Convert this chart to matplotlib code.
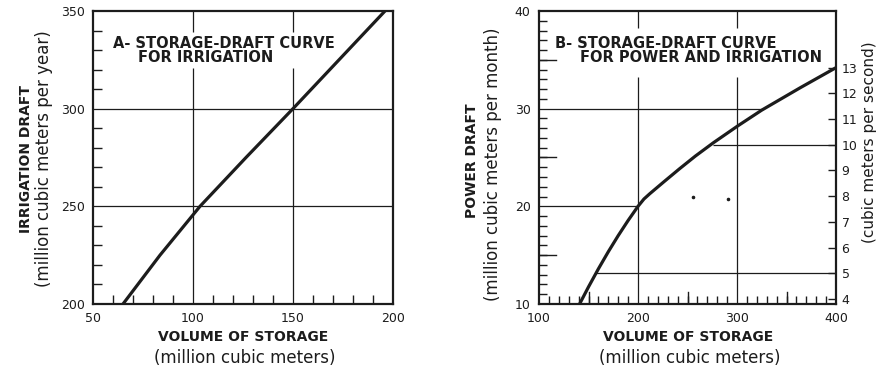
import matplotlib
matplotlib.use("Agg")
import matplotlib.pyplot as plt
from matplotlib.ticker import FixedLocator, MultipleLocator, NullFormatter

# --- curve A: irrigation only ---
storage_a = [65, 83.5, 103.5, 126.5, 150, 173, 196]
draft_a = [200, 225, 250, 275, 300, 325, 350]

# --- curve B: power and irrigation ---
storage_b = [141, 150, 160, 170, 180, 190, 200, 206, 212, 226, 242, 258,
             276, 301, 325, 364, 400]
draft_b = [10, 11.75, 13.6, 15.35, 17.0, 18.55, 20.0, 20.75, 21.3, 22.5,
           23.85, 25.15, 26.5, 28.25, 29.85, 32.15, 34.2]

# reference lines on B (x start, x end, draft)
guides_b = [(100, 326, 30), (100, 200, 20)]
# flow lines in m3/s, drawn from the curve to the right axis
flow_guides = [(276, 10), (157, 5)]
specks_x = [256, 291]
specks_y = [21.0, 20.75]

MCM_PER_CMS = 2.63  # million m3 per month for 1 m3/s

ink = "#1c1c1c"
plt.rcParams["font.family"] = "DejaVu Sans"

fig = plt.figure(figsize=(8.8, 3.7), dpi=100)
axA = fig.add_axes([93/880, 66/370, 300/880, 293/370])
axB = fig.add_axes([539/880, 66/370, 297/880, 293/370])

for ax in (axA, axB):
    for s in ax.spines.values():
        s.set_linewidth(1.6)
        s.set_color(ink)
    ax.tick_params(which="both", direction="in", colors=ink, labelsize=9,
                   width=1.0)
    ax.tick_params(which="major", length=0, pad=6)

# ===== Panel A =====
axA.set_xlim(50, 200)
axA.set_ylim(200, 350)
axA.xaxis.set_major_locator(FixedLocator([50, 100, 150, 200]))
axA.yaxis.set_major_locator(FixedLocator([200, 250, 300, 350]))
axA.xaxis.set_minor_locator(MultipleLocator(10))
axA.yaxis.set_minor_locator(MultipleLocator(10))
axA.tick_params(which="minor", length=6.5)

for yv in (250, 300):
    axA.axhline(yv, color=ink, lw=0.9)
for xv in (100, 150):
    axA.vlines(xv, 200, 321, color=ink, lw=0.9)
topA = axA.secondary_xaxis("top")
topA.set_xticks([100, 150])
topA.xaxis.set_major_formatter(NullFormatter())
topA.tick_params(direction="in", length=15, width=0.9, colors=ink)
topA.spines["top"].set_visible(False)

axA.plot(storage_a, draft_a, color=ink, lw=2.3, solid_capstyle="butt",
         solid_joinstyle="round")
axA.text(60, 333.6, "A- STORAGE-DRAFT CURVE", fontsize=10.5, fontweight="bold",
         color=ink, va="center", ha="left",
         bbox=dict(facecolor="white", edgecolor="none", pad=1))
axA.text(72.5, 326.4, "FOR IRRIGATION", fontsize=10.5, fontweight="bold",
         color=ink, va="center", ha="left",
         bbox=dict(facecolor="white", edgecolor="none", pad=1))

fig.text(243/880, 1 - 337/370, "VOLUME OF STORAGE", fontsize=10,
         fontweight="bold", color=ink, ha="center", va="center")
fig.text(245/880, 1 - 358/370, "(million cubic meters)", fontsize=12,
         color=ink, ha="center", va="center")
fig.text(26/880, 1 - 159/370, "IRRIGATION DRAFT", fontsize=10,
         fontweight="bold", color=ink, ha="center", va="center", rotation=90)
fig.text(44/880, 1 - 159/370, "(million cubic meters per year)", fontsize=12,
         color=ink, ha="center", va="center", rotation=90)

# ===== Panel B =====
axB.set_xlim(100, 400)
axB.set_ylim(10, 40)
axB.xaxis.set_major_locator(FixedLocator([100, 200, 300, 400]))
axB.yaxis.set_major_locator(FixedLocator([10, 20, 30, 40]))
axB.xaxis.set_minor_locator(MultipleLocator(10))
axB.yaxis.set_minor_locator(MultipleLocator(1))
axB.tick_params(which="minor", length=5.5)

# longer half-way ticks
for xv in (150, 250, 350):
    axB.axvline(xv, ymin=0, ymax=12/293, color=ink, lw=1.0)
for yv in (15, 25, 35):
    axB.axhline(yv, xmin=0, xmax=17/297, color=ink, lw=1.0)

for x0, x1, yv in guides_b:
    axB.hlines(yv, x0, x1, color=ink, lw=0.9)
for x0, q in flow_guides:
    axB.hlines(q * MCM_PER_CMS, x0, 400, color=ink, lw=0.9)
for xv in (200, 300):
    axB.vlines(xv, 10, 33.2, color=ink, lw=0.9)
topB = axB.secondary_xaxis("top")
topB.set_xticks([200, 300])
topB.xaxis.set_major_formatter(NullFormatter())
topB.tick_params(direction="in", length=12, width=0.9, colors=ink)
topB.spines["top"].set_visible(False)

axB.plot(storage_b, draft_b, color=ink, lw=2.3, solid_capstyle="butt",
         solid_joinstyle="round")
axB.scatter(specks_x, specks_y, s=2.5, color=ink, zorder=3)

axB.text(116, 36.7, "B- STORAGE-DRAFT CURVE", fontsize=10.5, fontweight="bold",
         color=ink, va="center", ha="left")
axB.text(141, 35.2, "FOR POWER AND IRRIGATION", fontsize=10.5,
         fontweight="bold", color=ink, va="center", ha="left")

right = axB.secondary_yaxis("right", functions=(lambda y: y / MCM_PER_CMS,
                                                lambda q: q * MCM_PER_CMS))
right.set_yticks(range(4, 14))
right.tick_params(direction="in", length=6, width=1.0, colors=ink,
                  labelsize=9, pad=4)
right.spines["right"].set_visible(False)

fig.text(688/880, 1 - 337/370, "VOLUME OF STORAGE", fontsize=10,
         fontweight="bold", color=ink, ha="center", va="center")
fig.text(690/880, 1 - 358/370, "(million cubic meters)", fontsize=12,
         color=ink, ha="center", va="center")
fig.text(472/880, 1 - 161/370, "POWER DRAFT", fontsize=10,
         fontweight="bold", color=ink, ha="center", va="center", rotation=90)
fig.text(493/880, 1 - 164/370, "(million cubic meters per month)",
         fontsize=12, color=ink, ha="center", va="center", rotation=90)
fig.text(869/880, 1 - 142/370, "(cubic meters per second)", fontsize=11,
         color=ink, ha="center", va="center", rotation=90)

fig.savefig("out.png", dpi=100, facecolor="white")
